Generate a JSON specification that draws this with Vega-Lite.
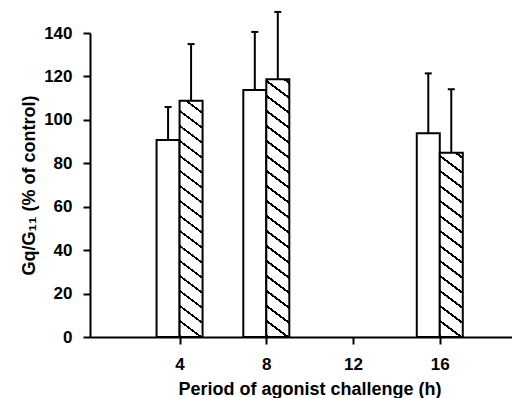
{
 "$schema": "https://vega.github.io/schema/vega-lite/v6.json",
 "width": 422, "height": 304,
 "autosize": {"type": "none"},
 "padding": {"left": 90, "top": 33, "right": 0, "bottom": 61},
 "background": "white",
 "config": {
  "view": {"stroke": null},
  "font": "Liberation Sans",
  "axis": {"grid": false, "domainColor": "black", "domainWidth": 2, "tickColor": "black", "tickWidth": 2, "tickSize": 7,
   "labelFont": "Liberation Sans", "labelFontWeight": "bold", "labelFontSize": 17, "labelColor": "black",
   "titleFont": "Liberation Sans", "titleFontWeight": "bold", "titleFontSize": 18, "titleColor": "black"}
 },
 "data": {"values": [
  {"time": 4, "series": "open", "value": 90.7, "upper": 105.9},
  {"time": 4, "series": "hatched", "value": 108.8, "upper": 134.9},
  {"time": 8, "series": "open", "value": 113.8, "upper": 140.5},
  {"time": 8, "series": "hatched", "value": 118.7, "upper": 149.7},
  {"time": 16, "series": "open", "value": 93.8, "upper": 121.4},
  {"time": 16, "series": "hatched", "value": 84.9, "upper": 114.1}
 ]},
 "encoding": {
  "x": {"field": "time", "type": "quantitative", "scale": {"domain": [0.1, 19.1], "nice": false, "zero": false},
   "axis": {"values": [4, 8, 12, 16], "title": "Period of agonist challenge (h)", "labelPadding": 12, "titlePadding": 8, "titleX": 219.5, "labelFlush": false}},
  "y": {"field": "value", "type": "quantitative", "scale": {"domain": [0, 140], "nice": false},
   "axis": {"values": [0, 20, 40, 60, 80, 100, 120, 140], "title": "Gq/G₁₁ (% of control)", "labelPadding": 11, "titlePadding": 5}}
 },
 "layer": [
  {"transform": [{"filter": "datum.series === 'open'"}],
   "mark": {"type": "bar", "size": 23, "xOffset": -11.5, "fill": "white", "stroke": "black", "strokeWidth": 2}},
  {"transform": [{"filter": "datum.series === 'hatched' && datum.time === 4"}],
   "mark": {"type": "bar", "size": 23, "xOffset": 11.5, "stroke": "black", "strokeWidth": 2,
    "fill": {"gradient": "linear", "x1": 0, "y1": 1, "x2": 0.09219, "y2": -0.26286, "stops": [
{"offset":0,"color":"#000"},{"offset":0.008,"color":"#000"},{"offset":0.008,"color":"#fff"},{"offset":0.05,"color":"#fff"},
{"offset":0.05,"color":"#000"},{"offset":0.058,"color":"#000"},{"offset":0.058,"color":"#fff"},{"offset":0.1,"color":"#fff"},
{"offset":0.1,"color":"#000"},{"offset":0.108,"color":"#000"},{"offset":0.108,"color":"#fff"},{"offset":0.15,"color":"#fff"},
{"offset":0.15,"color":"#000"},{"offset":0.158,"color":"#000"},{"offset":0.158,"color":"#fff"},{"offset":0.2,"color":"#fff"},
{"offset":0.2,"color":"#000"},{"offset":0.208,"color":"#000"},{"offset":0.208,"color":"#fff"},{"offset":0.25,"color":"#fff"},
{"offset":0.25,"color":"#000"},{"offset":0.258,"color":"#000"},{"offset":0.258,"color":"#fff"},{"offset":0.3,"color":"#fff"},
{"offset":0.3,"color":"#000"},{"offset":0.308,"color":"#000"},{"offset":0.308,"color":"#fff"},{"offset":0.35,"color":"#fff"},
{"offset":0.35,"color":"#000"},{"offset":0.358,"color":"#000"},{"offset":0.358,"color":"#fff"},{"offset":0.4,"color":"#fff"},
{"offset":0.4,"color":"#000"},{"offset":0.408,"color":"#000"},{"offset":0.408,"color":"#fff"},{"offset":0.45,"color":"#fff"},
{"offset":0.45,"color":"#000"},{"offset":0.458,"color":"#000"},{"offset":0.458,"color":"#fff"},{"offset":0.5,"color":"#fff"},
{"offset":0.5,"color":"#000"},{"offset":0.508,"color":"#000"},{"offset":0.508,"color":"#fff"},{"offset":0.55,"color":"#fff"},
{"offset":0.55,"color":"#000"},{"offset":0.558,"color":"#000"},{"offset":0.558,"color":"#fff"},{"offset":0.6,"color":"#fff"},
{"offset":0.6,"color":"#000"},{"offset":0.608,"color":"#000"},{"offset":0.608,"color":"#fff"},{"offset":0.65,"color":"#fff"},
{"offset":0.65,"color":"#000"},{"offset":0.658,"color":"#000"},{"offset":0.658,"color":"#fff"},{"offset":0.7,"color":"#fff"},
{"offset":0.7,"color":"#000"},{"offset":0.708,"color":"#000"},{"offset":0.708,"color":"#fff"},{"offset":0.75,"color":"#fff"},
{"offset":0.75,"color":"#000"},{"offset":0.758,"color":"#000"},{"offset":0.758,"color":"#fff"},{"offset":0.8,"color":"#fff"},
{"offset":0.8,"color":"#000"},{"offset":0.808,"color":"#000"},{"offset":0.808,"color":"#fff"},{"offset":0.85,"color":"#fff"},
{"offset":0.85,"color":"#000"},{"offset":0.858,"color":"#000"},{"offset":0.858,"color":"#fff"},{"offset":0.9,"color":"#fff"},
{"offset":0.9,"color":"#000"},{"offset":0.908,"color":"#000"},{"offset":0.908,"color":"#fff"},{"offset":0.95,"color":"#fff"},
{"offset":0.95,"color":"#000"},{"offset":0.958,"color":"#000"},{"offset":0.958,"color":"#fff"},{"offset":1,"color":"#fff"}
    ]}}},
  {"transform": [{"filter": "datum.series === 'hatched' && datum.time === 8"}],
   "mark": {"type": "bar", "size": 23, "xOffset": 11.5, "stroke": "black", "strokeWidth": 2,
    "fill": {"gradient": "linear", "x1": 0, "y1": 1, "x2": 0.07758, "y2": -0.15895, "stops": [
{"offset":0,"color":"#000"},{"offset":0.008,"color":"#000"},{"offset":0.008,"color":"#fff"},{"offset":0.05,"color":"#fff"},
{"offset":0.05,"color":"#000"},{"offset":0.058,"color":"#000"},{"offset":0.058,"color":"#fff"},{"offset":0.1,"color":"#fff"},
{"offset":0.1,"color":"#000"},{"offset":0.108,"color":"#000"},{"offset":0.108,"color":"#fff"},{"offset":0.15,"color":"#fff"},
{"offset":0.15,"color":"#000"},{"offset":0.158,"color":"#000"},{"offset":0.158,"color":"#fff"},{"offset":0.2,"color":"#fff"},
{"offset":0.2,"color":"#000"},{"offset":0.208,"color":"#000"},{"offset":0.208,"color":"#fff"},{"offset":0.25,"color":"#fff"},
{"offset":0.25,"color":"#000"},{"offset":0.258,"color":"#000"},{"offset":0.258,"color":"#fff"},{"offset":0.3,"color":"#fff"},
{"offset":0.3,"color":"#000"},{"offset":0.308,"color":"#000"},{"offset":0.308,"color":"#fff"},{"offset":0.35,"color":"#fff"},
{"offset":0.35,"color":"#000"},{"offset":0.358,"color":"#000"},{"offset":0.358,"color":"#fff"},{"offset":0.4,"color":"#fff"},
{"offset":0.4,"color":"#000"},{"offset":0.408,"color":"#000"},{"offset":0.408,"color":"#fff"},{"offset":0.45,"color":"#fff"},
{"offset":0.45,"color":"#000"},{"offset":0.458,"color":"#000"},{"offset":0.458,"color":"#fff"},{"offset":0.5,"color":"#fff"},
{"offset":0.5,"color":"#000"},{"offset":0.508,"color":"#000"},{"offset":0.508,"color":"#fff"},{"offset":0.55,"color":"#fff"},
{"offset":0.55,"color":"#000"},{"offset":0.558,"color":"#000"},{"offset":0.558,"color":"#fff"},{"offset":0.6,"color":"#fff"},
{"offset":0.6,"color":"#000"},{"offset":0.608,"color":"#000"},{"offset":0.608,"color":"#fff"},{"offset":0.65,"color":"#fff"},
{"offset":0.65,"color":"#000"},{"offset":0.658,"color":"#000"},{"offset":0.658,"color":"#fff"},{"offset":0.7,"color":"#fff"},
{"offset":0.7,"color":"#000"},{"offset":0.708,"color":"#000"},{"offset":0.708,"color":"#fff"},{"offset":0.75,"color":"#fff"},
{"offset":0.75,"color":"#000"},{"offset":0.758,"color":"#000"},{"offset":0.758,"color":"#fff"},{"offset":0.8,"color":"#fff"},
{"offset":0.8,"color":"#000"},{"offset":0.808,"color":"#000"},{"offset":0.808,"color":"#fff"},{"offset":0.85,"color":"#fff"},
{"offset":0.85,"color":"#000"},{"offset":0.858,"color":"#000"},{"offset":0.858,"color":"#fff"},{"offset":0.9,"color":"#fff"},
{"offset":0.9,"color":"#000"},{"offset":0.908,"color":"#000"},{"offset":0.908,"color":"#fff"},{"offset":0.95,"color":"#fff"},
{"offset":0.95,"color":"#000"},{"offset":0.958,"color":"#000"},{"offset":0.958,"color":"#fff"},{"offset":1,"color":"#fff"}
    ]}}},
  {"transform": [{"filter": "datum.series === 'hatched' && datum.time === 16"}],
   "mark": {"type": "bar", "size": 23, "xOffset": 11.5, "stroke": "black", "strokeWidth": 2,
    "fill": {"gradient": "linear", "x1": 0, "y1": 1, "x2": 0.15087, "y2": -0.61278, "stops": [
{"offset":0,"color":"#000"},{"offset":0.008,"color":"#000"},{"offset":0.008,"color":"#fff"},{"offset":0.05,"color":"#fff"},
{"offset":0.05,"color":"#000"},{"offset":0.058,"color":"#000"},{"offset":0.058,"color":"#fff"},{"offset":0.1,"color":"#fff"},
{"offset":0.1,"color":"#000"},{"offset":0.108,"color":"#000"},{"offset":0.108,"color":"#fff"},{"offset":0.15,"color":"#fff"},
{"offset":0.15,"color":"#000"},{"offset":0.158,"color":"#000"},{"offset":0.158,"color":"#fff"},{"offset":0.2,"color":"#fff"},
{"offset":0.2,"color":"#000"},{"offset":0.208,"color":"#000"},{"offset":0.208,"color":"#fff"},{"offset":0.25,"color":"#fff"},
{"offset":0.25,"color":"#000"},{"offset":0.258,"color":"#000"},{"offset":0.258,"color":"#fff"},{"offset":0.3,"color":"#fff"},
{"offset":0.3,"color":"#000"},{"offset":0.308,"color":"#000"},{"offset":0.308,"color":"#fff"},{"offset":0.35,"color":"#fff"},
{"offset":0.35,"color":"#000"},{"offset":0.358,"color":"#000"},{"offset":0.358,"color":"#fff"},{"offset":0.4,"color":"#fff"},
{"offset":0.4,"color":"#000"},{"offset":0.408,"color":"#000"},{"offset":0.408,"color":"#fff"},{"offset":0.45,"color":"#fff"},
{"offset":0.45,"color":"#000"},{"offset":0.458,"color":"#000"},{"offset":0.458,"color":"#fff"},{"offset":0.5,"color":"#fff"},
{"offset":0.5,"color":"#000"},{"offset":0.508,"color":"#000"},{"offset":0.508,"color":"#fff"},{"offset":0.55,"color":"#fff"},
{"offset":0.55,"color":"#000"},{"offset":0.558,"color":"#000"},{"offset":0.558,"color":"#fff"},{"offset":0.6,"color":"#fff"},
{"offset":0.6,"color":"#000"},{"offset":0.608,"color":"#000"},{"offset":0.608,"color":"#fff"},{"offset":0.65,"color":"#fff"},
{"offset":0.65,"color":"#000"},{"offset":0.658,"color":"#000"},{"offset":0.658,"color":"#fff"},{"offset":0.7,"color":"#fff"},
{"offset":0.7,"color":"#000"},{"offset":0.708,"color":"#000"},{"offset":0.708,"color":"#fff"},{"offset":0.75,"color":"#fff"},
{"offset":0.75,"color":"#000"},{"offset":0.758,"color":"#000"},{"offset":0.758,"color":"#fff"},{"offset":0.8,"color":"#fff"},
{"offset":0.8,"color":"#000"},{"offset":0.808,"color":"#000"},{"offset":0.808,"color":"#fff"},{"offset":0.85,"color":"#fff"},
{"offset":0.85,"color":"#000"},{"offset":0.858,"color":"#000"},{"offset":0.858,"color":"#fff"},{"offset":0.9,"color":"#fff"},
{"offset":0.9,"color":"#000"},{"offset":0.908,"color":"#000"},{"offset":0.908,"color":"#fff"},{"offset":0.95,"color":"#fff"},
{"offset":0.95,"color":"#000"},{"offset":0.958,"color":"#000"},{"offset":0.958,"color":"#fff"},{"offset":1,"color":"#fff"}
    ]}}},
  {"transform": [{"filter": "datum.series === 'open'"}],
   "mark": {"type": "rule", "xOffset": -11.5, "strokeWidth": 2, "color": "black"},
   "encoding": {"y2": {"field": "upper"}}},
  {"transform": [{"filter": "datum.series === 'hatched'"}],
   "mark": {"type": "rule", "xOffset": 11.5, "strokeWidth": 2, "color": "black"},
   "encoding": {"y2": {"field": "upper"}}},
  {"transform": [{"filter": "datum.series === 'open'"}],
   "mark": {"type": "tick", "orient": "horizontal", "size": 7, "thickness": 2, "xOffset": -11.5, "color": "black", "opacity": 1},
   "encoding": {"y": {"field": "upper", "type": "quantitative", "title": "Gq/G₁₁ (% of control)"}}},
  {"transform": [{"filter": "datum.series === 'hatched'"}],
   "mark": {"type": "tick", "orient": "horizontal", "size": 7, "thickness": 2, "xOffset": 11.5, "color": "black", "opacity": 1},
   "encoding": {"y": {"field": "upper", "type": "quantitative", "title": "Gq/G₁₁ (% of control)"}}}
 ]
}
